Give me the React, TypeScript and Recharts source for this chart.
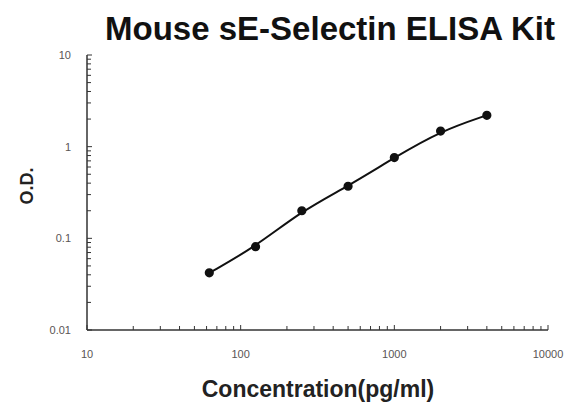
import { LineChart, Line, XAxis, YAxis } from 'recharts';

const concentrations = [62.5, 125, 250, 500, 1000, 2000, 4000];
const odValues = [0.042, 0.081, 0.2, 0.37, 0.76, 1.48, 2.2];

const xMajorTicks = [10, 100, 1000, 10000];
const yMajorTicks = [0.01, 0.1, 1, 10];
const minorSteps = [2, 3, 4, 5, 6, 7, 8, 9];

const data = concentrations.map((c, i) => ({ conc: c, od: odValues[i] }));

// major decades plus 2..9 minor ticks between them
const withMinors = (majors: number[]) => {
  const out: number[] = [];
  majors.forEach((m, i) => {
    out.push(m);
    if (i < majors.length - 1) minorSteps.forEach((s) => out.push(m * s));
  });
  return out;
};
const xTicks = withMinors(xMajorTicks);
const yTicks = withMinors(yMajorTicks);

const PLOT_LEFT = 87;
const PLOT_BOTTOM = 330;
const FONT = 'Liberation Sans, Arial, sans-serif';

const XTick = (props: any) => {
  const { x, payload } = props;
  const v = payload.value;
  const major = xMajorTicks.includes(v);
  return (
    <g>
      <line x1={x} x2={x} y1={PLOT_BOTTOM} y2={PLOT_BOTTOM - (major ? 5 : 4)} stroke="#333" strokeWidth={1} />
      {major && (
        <text x={x} y={PLOT_BOTTOM + 28} textAnchor="middle" fontSize={11} fill="#5a5555" fontFamily={FONT}>
          {v}
        </text>
      )}
    </g>
  );
};

const YTick = (props: any) => {
  const { y, payload } = props;
  const v = payload.value;
  const major = yMajorTicks.includes(v);
  return (
    <g>
      <line x1={PLOT_LEFT} x2={PLOT_LEFT + (major ? 5 : 4)} y1={y} y2={y} stroke="#333" strokeWidth={1} />
      {major && (
        <text x={PLOT_LEFT - 16} y={y + 4} textAnchor="end" fontSize={11} fill="#5a5555" fontFamily={FONT}>
          {v}
        </text>
      )}
    </g>
  );
};

export default function App() {
  return (
    <div style={{ position: 'absolute', left: 0, top: 0, width: 573, height: 406, background: '#fff' }}>
      <LineChart width={573} height={406} data={data} margin={{ top: 55, right: 25, bottom: 0, left: 0 }}>
        <text x={330} y={40} textAnchor="middle" fontSize={33} fontWeight="bold" fill="#111" fontFamily={FONT}>
          Mouse sE-Selectin ELISA Kit
        </text>
        <text x={318} y={397} textAnchor="middle" fontSize={23} fontWeight="bold" fill="#222" fontFamily={FONT}>
          Concentration(pg/ml)
        </text>
        <text
          x={33}
          y={186}
          textAnchor="middle"
          fontSize={18}
          fontWeight="bold"
          fill="#222"
          fontFamily={FONT}
          transform="rotate(-90 33 186)"
        >
          O.D.
        </text>
        <XAxis
          dataKey="conc"
          type="number"
          scale="log"
          domain={[10, 10000]}
          ticks={xTicks}
          interval={0}
          tick={<XTick />}
          tickLine={false}
          axisLine={{ stroke: '#333', strokeWidth: 1.5 }}
          height={76}
          allowDataOverflow
        />
        <YAxis
          dataKey="od"
          type="number"
          scale="log"
          domain={[0.01, 10]}
          ticks={yTicks}
          interval={0}
          tick={<YTick />}
          tickLine={false}
          axisLine={{ stroke: '#333', strokeWidth: 1.5 }}
          width={87}
          allowDataOverflow
        />
        <Line
          type="basis"
          dataKey="od"
          stroke="#111"
          strokeWidth={2}
          dot={{ r: 3.6, fill: '#111', stroke: '#111' }}
          activeDot={false}
          isAnimationActive={false}
        />
      </LineChart>
    </div>
  );
}
